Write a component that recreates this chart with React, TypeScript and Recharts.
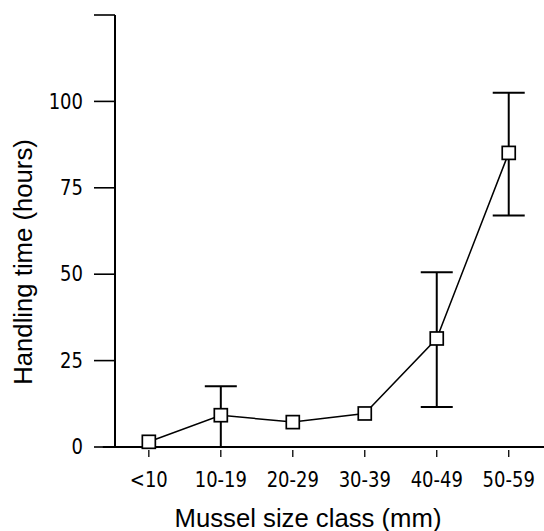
import React from 'react';
import { LineChart, Line, XAxis, YAxis, ErrorBar, ReferenceLine, Label } from 'recharts';

const categories = ['<10', '10-19', '20-29', '30-39', '40-49', '50-59'];
const meanHours = [1.5, 9.2, 7.2, 9.7, 31.4, 85.1];
const errLow: (number | null)[] = [null, 9.2, null, null, 19.8, 18.1];
const errHigh: (number | null)[] = [null, 8.4, null, null, 19.2, 17.4];
const yTicks = [0, 25, 50, 75, 100, 125];
const yTickLabels = ['0', '25', '50', '75', '100', ''];

const data = categories.map((c, i) => ({
  idx: i,
  label: c,
  value: meanHours[i],
  err: errLow[i] == null ? null : [errLow[i], errHigh[i]],
}));

const tickFont = '"DejaVu Sans Condensed", "Liberation Sans Narrow", sans-serif';
const titleFont = '"Liberation Sans", Arial, sans-serif';

const SquareDot = (props: any) => {
  const { cx, cy, index } = props;
  if (cx == null || cy == null) return null;
  return (
    <rect key={`d${index}`} x={cx - 6.5} y={cy - 6.5} width={13} height={13} fill="#fff" stroke="#000" strokeWidth={1.7} />
  );
};

const XTick = (props: any) => {
  const { x, y, payload } = props;
  return (
    <g>
      <line x1={x} x2={x} y1={y + 3} y2={y + 10} stroke="#000" strokeWidth={1.3} />
      <g transform={`translate(${x}, ${y + 33}) scale(1, 1.08)`}>
        <text x={0} y={0} textAnchor="middle" dominantBaseline="central" fontFamily={tickFont} fontSize={20} fill="#000">
          {categories[payload.value]}
        </text>
      </g>
    </g>
  );
};

const YTick = (props: any) => {
  const { x, y, payload } = props;
  const label = yTickLabels[yTicks.indexOf(payload.value)] ?? String(payload.value);
  return (
    <g transform={`translate(${x}, ${y}) scale(1, 1.08)`}>
      <text x={0} y={0} textAnchor="end" dominantBaseline="central" fontFamily={tickFont} fontSize={20} fill="#000">
        {label}
      </text>
    </g>
  );
};

export default function App() {
  return (
    <div style={{ position: 'absolute', left: 0, top: 0, width: 544, height: 531, background: '#fff' }}>
      <LineChart width={544} height={531} data={data} margin={{ top: 15, right: 0, bottom: 0, left: 0 }}>
        <XAxis
          dataKey="idx"
          type="number"
          domain={[-0.47, 5.49]}
          ticks={[0, 1, 2, 3, 4, 5]}
          allowDataOverflow
          height={84}
          tickSize={0}
          tickMargin={0}
          tickLine={false}
          axisLine={{ stroke: '#000', strokeWidth: 2 }}
          tick={<XTick />}
        >
          <Label
            content={() => (
              <text x={308} y={527} textAnchor="middle" fontFamily={titleFont} fontSize={25.7} fill="#000">
                Mussel size class (mm)
              </text>
            )}
          />
        </XAxis>
        <YAxis
          type="number"
          domain={[0, 125]}
          ticks={yTicks}
          width={115}
          tickSize={21}
          tickMargin={11}
          axisLine={{ stroke: '#000', strokeWidth: 2 }}
          tickLine={{ stroke: '#000', strokeWidth: 1.6 }}
          tick={<YTick />}
        >
          <Label
            content={() => (
              <text
                x={23}
                y={262}
                transform="rotate(-90, 23, 262)"
                textAnchor="middle"
                dominantBaseline="central"
                fontFamily={titleFont}
                fontSize={25.7}
                fill="#000"
              >
                Handling time (hours)
              </text>
            )}
          />
        </YAxis>
        <ReferenceLine
          segment={[{ x: -0.64, y: 0 }, { x: 5.49, y: 0 }]}
          ifOverflow="visible"
          stroke="#000"
          strokeWidth={2}
        />
        <Line
          dataKey="value"
          stroke="#000"
          strokeWidth={1.5}
          isAnimationActive={false}
          dot={<SquareDot />}
          activeDot={false}
        >
          <ErrorBar dataKey="err" width={16} stroke="#000" strokeWidth={2} direction="y" />
        </Line>
      </LineChart>
    </div>
  );
}
